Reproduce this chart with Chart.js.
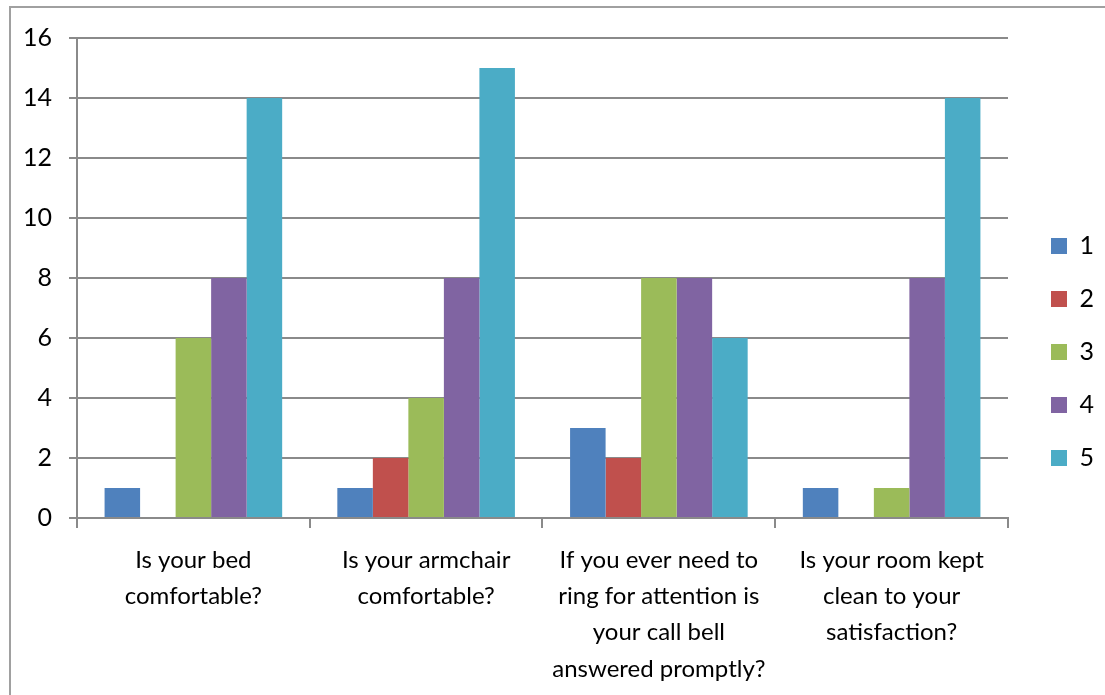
<!DOCTYPE html>
<html>
<head>
<meta charset="utf-8">
<script src="https://cdn.jsdelivr.net/npm/chart.js@4/dist/chart.umd.min.js"></script>
<style>
  html, body { margin: 0; padding: 0; background: #fff; overflow: hidden; }
  #frame {
    position: absolute; left: 9px; top: 6px; width: 1300px; height: 900px;
    border: 2px solid #a0a0a0;
  }
  #chart { position: absolute; left: 0; top: 0; }
</style>
</head>
<body>
<div id="frame"></div>
<canvas id="chart" width="1105" height="695"></canvas>
<script>
// categories (questions), one array of lines per label
const questions = [
  ['Is your bed', 'comfortable?'],
  ['Is your armchair', 'comfortable?'],
  ['If you ever need to', 'ring for attention is', 'your call bell', 'answered promptly?'],
  ['Is your room kept', 'clean to your', 'satisfaction?']
];

// rating series 1..5
const ratingNames = ['1', '2', '3', '4', '5'];
const rating1 = [1, 1, 3, 1];
const rating2 = [0, 2, 2, 0];
const rating3 = [6, 4, 8, 1];
const rating4 = [8, 8, 8, 8];
const rating5 = [14, 15, 6, 14];

const seriesColors = ['#4F81BD', '#C0504D', '#9BBB59', '#8064A2', '#4BACC6'];
const gridGray = '#8a8a8a';
const font = { family: 'Lato', size: 25 };

// nudge the legend to where the original one sits
const legendPlace = {
  id: 'legendPlace',
  afterLayout(chart) {
    const lg = chart.legend;
    const w = lg.width, h = lg.height;
    lg.left = 1023; lg.right = lg.left + w;
    lg.top = 205.5; lg.bottom = lg.top + h;
  }
};

const datasets = [rating1, rating2, rating3, rating4, rating5].map((vals, i) => ({
  label: ratingNames[i],
  data: vals,
  backgroundColor: seriesColors[i],
  borderWidth: 0,
  categoryPercentage: 0.763,
  barPercentage: 1.0
}));

new Chart(document.getElementById('chart'), {
  type: 'bar',
  data: { labels: questions, datasets },
  plugins: [legendPlace],
  options: {
    responsive: false,
    animation: false,
    devicePixelRatio: 1,
    layout: { padding: { top: 38, right: 16, bottom: 0, left: 0 } },
    plugins: {
      legend: {
        position: 'right',
        align: 'start',
        labels: {
          font,
          color: '#000',
          boxWidth: 16,
          boxHeight: 16,
          padding: 28
        }
      },
      tooltip: { enabled: false },
      title: { display: false }
    },
    scales: {
      x: {
        afterFit(scale) { scale.height = 177; },
        grid: {
          display: true,
          drawOnChartArea: false,
          drawTicks: true,
          tickLength: 10,
          color: gridGray,
          lineWidth: 2
        },
        border: { display: true, color: gridGray, width: 2 },
        ticks: {
          color: '#000',
          font: { family: 'Lato', size: 24, lineHeight: 1.51 },
          padding: 14,
          maxRotation: 0,
          autoSkip: false
        }
      },
      y: {
        min: 0,
        max: 16,
        afterFit(scale) { scale.width = 77; },
        grid: {
          color: gridGray,
          lineWidth: 2,
          drawTicks: true,
          tickLength: 8
        },
        border: { display: true, color: gridGray, width: 2 },
        ticks: {
          stepSize: 2,
          color: '#000',
          font,
          padding: 17
        }
      }
    }
  }
});
</script>
</body>
</html>
